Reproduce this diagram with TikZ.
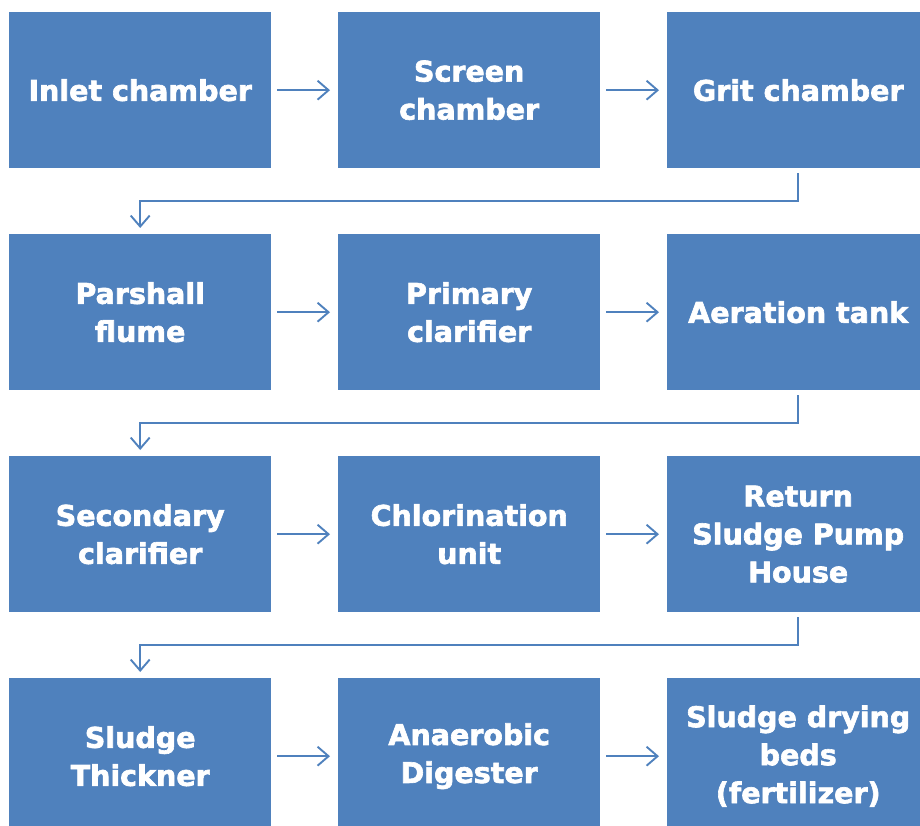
\documentclass[tikz,border=0pt]{standalone}
\usepackage{fontspec}
\setmainfont{DejaVu Sans}[BoldFeatures={FakeBold=2.2}]
\usetikzlibrary{arrows.meta}
\definecolor{boxblue}{HTML}{4F81BD}
\begin{document}
\begin{tikzpicture}[x=1pt,y=-1pt,
  box/.style={fill=boxblue, minimum width=262pt, minimum height=156pt, anchor=north west,
    inner sep=0pt, align=center, text=white, font=\fontsize{28.5}{38}\selectfont\bfseries},
  flow/.style={draw=boxblue, line width=1.9pt, -{Straight Barb[length=11pt,width=19pt]}},
  hflow/.style={flow, shorten <=6pt, shorten >=8pt},
  eflow/.style={flow, shorten <=5pt, shorten >=6pt}]
\useasboundingbox (0,0) rectangle (920,826);
\clip (0,0) rectangle (920,826);
\node[box] (a1) at (9,12) {Inlet chamber};
\node[box] (a2) at (338,12) {Screen\\chamber};
\node[box] (a3) at (667,12) {Grit chamber};
\node[box] (b1) at (9,234) {Parshall\\flume};
\node[box] (b2) at (338,234) {Primary\\clarifier};
\node[box] (b3) at (667,234) {Aeration tank};
\node[box] (c1) at (9,456) {Secondary\\clarifier};
\node[box] (c2) at (338,456) {Chlorination\\unit};
\node[box] (c3) at (667,456) {Return\\Sludge Pump\\House};
\node[box] (d1) at (9,678) {Sludge\\Thickner};
\node[box] (d2) at (338,678) {Anaerobic\\Digester};
\node[box] (d3) at (667,678) {Sludge drying\\beds\\(fertilizer)};
\draw[hflow] (a1.east) -- (a2.west);
\draw[hflow] (a2.east) -- (a3.west);
\draw[hflow] (b1.east) -- (b2.west);
\draw[hflow] (b2.east) -- (b3.west);
\draw[hflow] (c1.east) -- (c2.west);
\draw[hflow] (c2.east) -- (c3.west);
\draw[hflow] (d1.east) -- (d2.west);
\draw[hflow] (d2.east) -- (d3.west);
\draw[eflow] (a3.south) -- ++(0,33) -| (b1.north);
\draw[eflow] (b3.south) -- ++(0,33) -| (c1.north);
\draw[eflow] (c3.south) -- ++(0,33) -| (d1.north);
\end{tikzpicture}
\end{document}
